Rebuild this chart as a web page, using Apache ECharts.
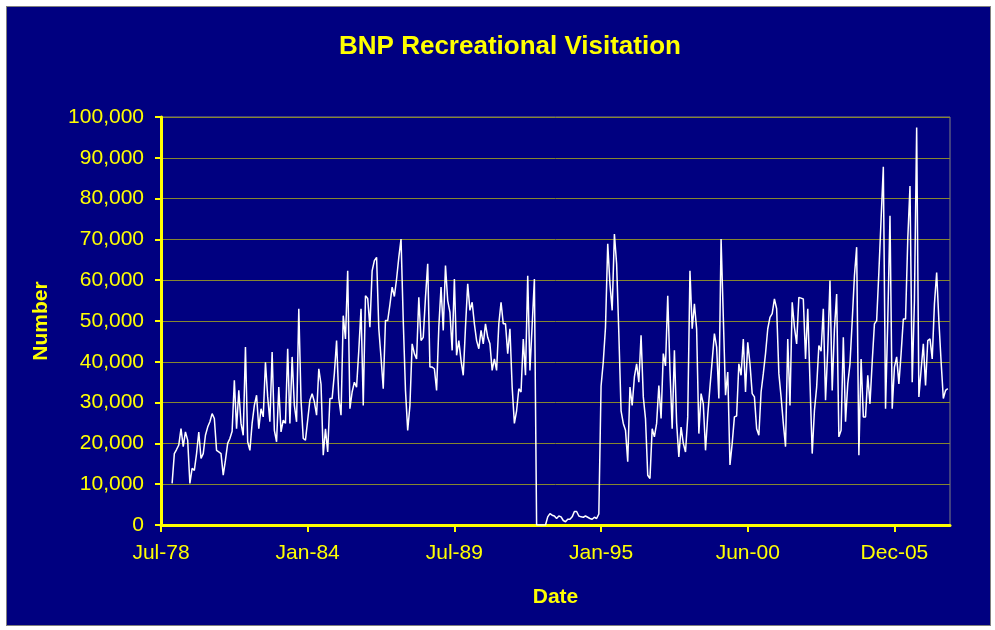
<!DOCTYPE html>
<html>
<head>
<meta charset="utf-8">
<title>BNP Recreational Visitation</title>
<script src="https://cdn.jsdelivr.net/npm/echarts@6/dist/echarts.min.js"></script>
<style>
    html, body {
        margin: 0;
        padding: 0;
        background: #ffffff;
    }

    .frame {
        position: absolute;
        left: 6px;
        top: 6px;
        width: 983px;
        height: 618px;
        border: 1px solid #808080;
        background: #000080;
    }

    #chart {
        width: 983px;
        height: 618px;
    }
</style>
</head>
<body>
<div class="frame">
    <div id="chart"></div>
</div>
<script>
// x axis is counted in months from Jul-78
var tickMonths = [0, 66, 132, 198, 264, 330]
var tickLabels = ['Jul-78', 'Jan-84', 'Jul-89', 'Jan-95', 'Jun-00', 'Dec-05']
var firstMonth = 5 // Dec-78
var lastAxisMonth = 355

// monthly visitor counts
var visits1978to1983 = [
    10200, 17500, 18500, 19600, 23600, 19200, 22800, 20800, 10200, 13900, 13400, 17500,
    22800, 16300, 17500, 22000, 24000, 25300, 27300, 26100, 18300, 17900, 17500, 12200,
    15900, 20000, 21200, 23000, 35500, 23600, 33000, 24900, 22000, 43600, 20400, 18300,
    24900, 29300, 31800, 23600, 28500, 26500, 39900, 31400, 25300, 42400, 23200, 20400,
    33800, 22800, 25700, 24900, 43200, 24900, 41200, 29300, 25300, 53000, 30600, 21200,
    20800
]
var visits1984to1988 = [
    25700, 30600, 32200, 30200, 26900, 38300, 34500, 17100, 23600, 17900, 31000, 31000,
    37100, 45200, 31000, 26900, 51300, 45600, 62300, 28500, 32600, 35000, 33800, 42800,
    53000, 29300, 56200, 55500, 48500, 62300, 64800, 65600, 48100, 41000, 33400, 50100,
    50100, 54000, 58300, 56000, 60300, 65600, 70100, 50000, 33000, 23200, 29300, 44400,
    42000, 40700, 55800, 45200, 46000, 55800, 64000, 38700, 38700, 38300, 33000, 48500
]
var visits1989to1993 = [
    58300, 47700, 63600, 55000, 52200, 42800, 60300, 41600, 45200, 40300, 36700, 48500,
    59100, 52600, 54600, 49300, 45200, 43200, 47700, 44400, 49300, 46000, 44400, 37900,
    40700, 37900, 49300, 54600, 49300, 49300, 42000, 48100, 33800, 24900, 28000, 33400,
    32600, 45600, 36700, 61100, 37900, 49000, 60300, 0, 0, 0, 0, 0,
    2000, 2800, 2400, 2200, 1600, 2200, 2000, 1100, 800, 1400, 1400, 2000
]
var visits1994to1998 = [
    3300, 3300, 2200, 2000, 1900, 2200, 1900, 1600, 1400, 1900, 1600, 2700,
    34000, 40000, 48500, 68900, 59100, 52600, 71300, 64000, 46900, 28000, 24900, 23200,
    15500, 33800, 29300, 36300, 39500, 35000, 46500, 31400, 26000, 12200, 11400, 23600,
    21600, 24900, 34200, 26100, 42000, 39000, 56200, 38000, 23600, 42800, 25000, 16700,
    24000, 20000, 17900, 26500, 62300, 48100, 54200, 48000, 22400, 32200, 29700, 18300
]
var visits1999to2003 = [
    26900, 33800, 40300, 46900, 43600, 31000, 70100, 50900, 31800, 37500, 14700, 20000,
    26500, 26700, 39500, 36700, 45600, 32600, 44800, 39500, 32200, 31400, 23600, 22000,
    32600, 37100, 42000, 48100, 50900, 51800, 55400, 53000, 37100, 31400, 24900, 19200,
    45600, 29300, 54600, 48500, 44400, 55800, 55600, 55400, 40700, 53000, 35000, 17500,
    28000, 33800, 44000, 42600, 53000, 30600, 43000, 59900, 33000, 48000, 56600, 21600
]
var visits2004to2008 = [
    23200, 46000, 25300, 34600, 39500, 50000, 61100, 68100, 17100, 40700, 26500, 26500,
    36700, 29700, 40000, 49300, 50100, 62000, 75000, 87800, 28500, 50000, 75800, 28500,
    38700, 41200, 34600, 42000, 50500, 50500, 70000, 83100, 35000, 55000, 97400, 31400,
    38000, 44400, 34200, 45200, 45600, 40700, 54200, 61900, 50000, 40000, 31000, 33000,
    33400
]

var yellow = '#ffff00'
var font = 'Liberation Sans, Arial, sans-serif'

var allVisits = [].concat(
    visits1978to1983,
    visits1984to1988,
    visits1989to1993,
    visits1994to1998,
    visits1999to2003,
    visits2004to2008
)
var points = allVisits.map(function(v, i) {
    return [firstMonth + i, v]
})

var chart = echarts.init(document.getElementById('chart'))
var option = {
    backgroundColor: '#000080',
    animation: false,
    title: {
        text: 'BNP Recreational Visitation',
        left: 498,
        top: 22,
        textAlign: 'center',
        textStyle: {
            color: yellow,
            fontFamily: font,
            fontSize: 26,
            fontWeight: 'bold'
        }
    },
    grid: {
        left: 154,
        top: 110,
        width: 789,
        height: 408,
        show: true,
        borderColor: '#808080',
        borderWidth: 1
    },
    xAxis: {
        type: 'value',
        min: 0,
        max: lastAxisMonth,
        name: 'Date',
        nameLocation: 'middle',
        nameGap: 62,
        nameTextStyle: {
            color: yellow,
            fontFamily: font,
            fontSize: 21,
            fontWeight: 'bold'
        },
        axisLine: {
            lineStyle: { color: yellow, width: 3 }
        },
        axisTick: {
            show: true,
            customValues: tickMonths,
            length: 7,
            lineStyle: { color: yellow, width: 2 }
        },
        axisLabel: {
            customValues: tickMonths,
            color: yellow,
            fontFamily: font,
            fontSize: 21,
            margin: 18,
            formatter: function(v) {
                var k = tickMonths.indexOf(v)
                return k < 0 ? '' : tickLabels[k]
            }
        },
        splitLine: { show: false }
    },
    yAxis: {
        type: 'value',
        min: 0,
        max: 100000,
        interval: 10000,
        name: 'Number',
        nameLocation: 'middle',
        nameRotate: 90,
        nameGap: 109,
        nameTextStyle: {
            color: yellow,
            fontFamily: font,
            fontSize: 21,
            fontWeight: 'bold'
        },
        axisLine: {
            show: true,
            lineStyle: { color: yellow, width: 3 }
        },
        axisTick: {
            show: true,
            length: 6,
            lineStyle: { color: yellow, width: 2 }
        },
        axisLabel: {
            color: yellow,
            fontFamily: font,
            fontSize: 21,
            margin: 17,
            formatter: function(v) {
                return v.toLocaleString('en-US')
            }
        },
        splitLine: {
            lineStyle: { color: '#86862e', width: 1 }
        }
    },
    series: [
        {
            name: 'Number',
            type: 'line',
            data: points,
            symbol: 'none',
            lineStyle: { color: '#ffffff', width: 1.5 },
            itemStyle: { color: '#ffffff' }
        }
    ]
}
chart.setOption(option)
</script>
</body>
</html>
